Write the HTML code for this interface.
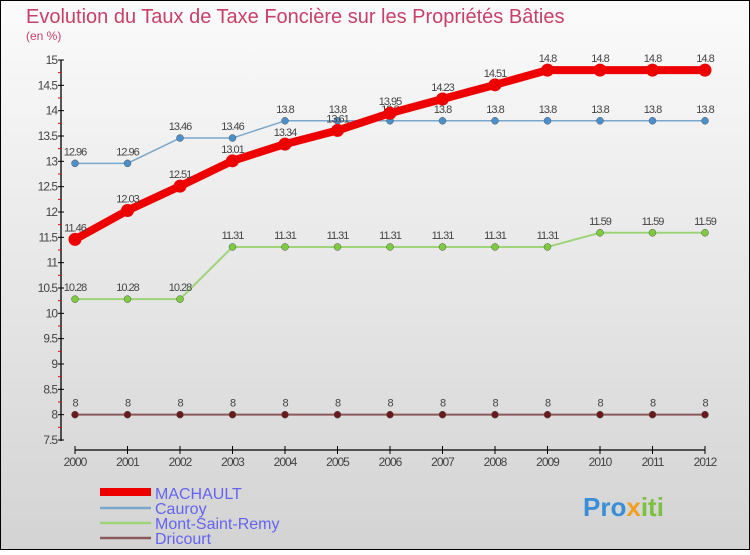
<!DOCTYPE html>
<html><head><meta charset="utf-8"><style>
body{margin:0}
svg text{font-family:"Liberation Sans",sans-serif}
</style></head><body>
<svg id="c" width="750" height="550" xmlns="http://www.w3.org/2000/svg">
<defs><linearGradient id="bg" x1="0" y1="0" x2="0" y2="1"><stop offset="0" stop-color="#fbfbfb"/><stop offset="1" stop-color="#d3d3d3"/></linearGradient></defs>
<rect x="0.5" y="0.5" width="749" height="549" fill="url(#bg)" stroke="#000"/>
<text x="26" y="23" font-size="20" fill="#c8406a">Evolution du Taux de Taxe Foncière sur les Propriétés Bâties</text>
<text x="26" y="40" font-size="12" fill="#c8406a">(en %)</text>
<g id="axes"></g><g id="series"></g>
<g font-size="16" fill="#6464f0">
<rect x="100" y="488" width="51" height="8" fill="#e00"/>
<text x="155" y="499">MACHAULT</text>
<line x1="100" y1="508" x2="151" y2="508" stroke="#7aa7cc" stroke-width="2.5"/>
<text x="155" y="514">Cauroy</text>
<line x1="100" y1="523" x2="151" y2="523" stroke="#9ed47a" stroke-width="2.5"/>
<text x="155" y="529">Mont-Saint-Remy</text>
<line x1="100" y1="538" x2="151" y2="538" stroke="#8a5a5a" stroke-width="2.5"/>
<text x="155" y="544">Dricourt</text>
</g>
<g font-size="26" font-weight="bold">
<text x="583" y="516" fill="#3a8ed8">Pro<tspan fill="#f0a020">x</tspan><tspan fill="#7cc040">iti</tspan></text>
</g>
</svg>
<script>
const years=[2000,2001,2002,2003,2004,2005,2006,2007,2008,2009,2010,2011,2012];
const machault=[11.46,12.03,12.51,13.01,13.34,13.61,13.95,14.23,14.51,14.8,14.8,14.8,14.8];
const cauroy=[12.96,12.96,13.46,13.46,13.8,13.8,13.8,13.8,13.8,13.8,13.8,13.8,13.8];
const montSaintRemy=[10.28,10.28,10.28,11.31,11.31,11.31,11.31,11.31,11.31,11.31,11.59,11.59,11.59];
const dricourt=[8,8,8,8,8,8,8,8,8,8,8,8,8];
const yTicks=[7.5,8,8.5,9,9.5,10,10.5,11,11.5,12,12.5,13,13.5,14,14.5,15];
const NS="http://www.w3.org/2000/svg";
const xS=i=>75+i*52.5;
const yS=v=>440-(v-7.5)*(380/7.5);
function mk(t,a,p){const e=document.createElementNS(NS,t);for(const k in a)e.setAttribute(k,a[k]);p.appendChild(e);return e;}
const ax=document.getElementById('axes');
let l=mk('line',{x1:61,y1:60,x2:61,y2:441,stroke:'#000','stroke-width':1.3},ax);


yTicks.forEach(v=>{
 mk('line',{x1:58,y1:yS(v),x2:64,y2:yS(v),stroke:'#000'},ax);
 if(v<15)mk('line',{x1:58,y1:yS(v+0.25),x2:61,y2:yS(v+0.25),stroke:'#e00'},ax);
 const t=mk('text',{x:57,y:yS(v)+4,'text-anchor':'end','font-size':12,fill:'#444','letter-spacing':'-1'},ax);
 t.textContent=String(v);
 
 
});
l=mk('line',{x1:75,y1:450,x2:705,y2:450,stroke:'#000','stroke-width':1.3},ax);


years.forEach((y,i)=>{
 mk('line',{x1:xS(i),y1:446,x2:xS(i),y2:454,stroke:'#000'},ax);
 const t=mk('text',{x:xS(i),y:466,'text-anchor':'middle','font-size':12,fill:'#444','letter-spacing':'-1'},ax);
 t.textContent=String(y);
 
 
});
const sg=document.getElementById('series');
function series(vals,name,col,pcol,w,r){
 const g=mk('g',{},sg);
 
 
 const pl=mk('polyline',{points:vals.map((v,i)=>xS(i)+','+yS(v)).join(' '),fill:'none',stroke:col,'stroke-width':w,'stroke-linejoin':'round'},g);
 
 
 vals.forEach((v,i)=>{
  const c=mk('circle',{cx:xS(i),cy:yS(v),r:r,fill:pcol,stroke:pcol==='#e00'?'none':'#555','stroke-width':0.5},g);
  
  
  const t=mk('text',{x:xS(i),y:yS(v)-8,'text-anchor':'middle','font-size':11,fill:'#444','letter-spacing':'-1'},g);
  t.textContent=String(v);
  
  
 });
}
series(dricourt,'dricourt','#8a5a5a','#6a1a1a',2,3.5);
series(montSaintRemy,'mont-saint-remy','#9ed47a','#7ccc40',2,3.5);
series(cauroy,'cauroy','#7aa7cc','#4a90cc',1.5,3.5);
series(machault,'machault','#e00','#e00',8,6.5);
</script>
</body></html>
